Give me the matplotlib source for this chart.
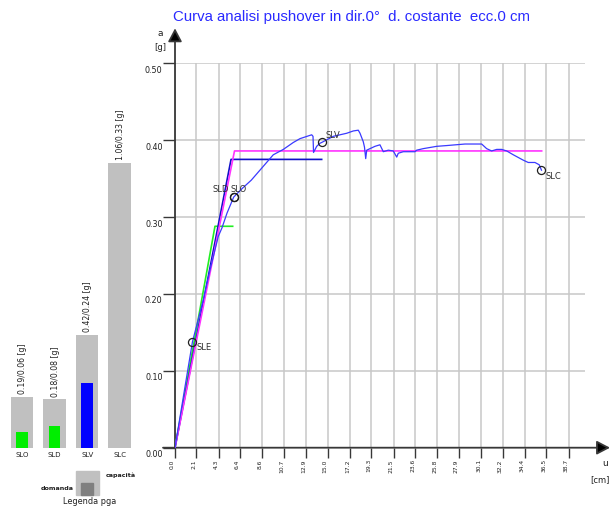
import matplotlib
matplotlib.use("Agg")
import matplotlib.pyplot as plt
from matplotlib.patches import Rectangle

W, H = 615, 509

# pushover curve: top displacement [cm] vs spectral acceleration [g]
u_push = [0.00, 0.98, 1.72, 2.78, 3.44, 4.26, 4.62, 5.11, 5.77, 6.59, 7.50,
          8.68, 9.66, 10.65, 11.63, 12.29, 13.44, 13.57, 13.62, 13.93, 14.25,
          14.42, 15.56, 16.88, 17.53, 18.02, 18.19, 18.51, 18.63, 18.75, 18.85,
          19.66, 20.15, 20.48, 20.97, 21.46, 21.80, 21.95, 22.44, 23.59, 23.76,
          24.41, 25.73, 26.71, 28.51, 30.15, 30.64, 31.13, 31.63, 32.12, 32.61,
          33.26, 34.24, 34.73, 35.39, 35.81, 36.03]
a_push = [0.000, 0.079, 0.138, 0.192, 0.231, 0.275, 0.286, 0.305, 0.326, 0.337, 0.348,
          0.366, 0.381, 0.388, 0.397, 0.402, 0.407, 0.405, 0.384, 0.392, 0.396,
          0.397, 0.405, 0.409, 0.412, 0.413, 0.409, 0.398, 0.391, 0.376, 0.387,
          0.392, 0.394, 0.385, 0.387, 0.386, 0.378, 0.383, 0.385, 0.385, 0.387,
          0.389, 0.392, 0.393, 0.395, 0.395, 0.389, 0.386, 0.388, 0.388, 0.386,
          0.381, 0.374, 0.371, 0.371, 0.368, 0.361]

# bilinear equivalents
u_green = [0.0, 3.93, 5.67]
a_green = [0.0, 0.288, 0.288]
u_magenta = [0.0, 5.85, 36.05]
a_magenta = [0.0, 0.386, 0.386]
u_blue = [0.0, 5.51, 14.42]
a_blue = [0.0, 0.375, 0.375]

# limit states on the curve
ls_names = ['SLE', 'SLD', 'SLO', 'SLV', 'SLC']
ls_u = [1.72, 5.77, 5.77, 14.42, 36.03]
ls_a = [0.138, 0.326, 0.326, 0.397, 0.361]
ls_offsets = [(4, -5.5), (-4.5, 7.3), (-3.5, 7.3), (4, 7.3), (4.2, -6.2)]  # px
ls_align = ['left', 'right', 'left', 'left', 'left']

# pga capacity / demand
pga_states = ['SLO', 'SLD', 'SLV', 'SLC']
pga_capacity = [0.19, 0.18, 0.42, 1.06]
pga_demand = [0.06, 0.08, 0.24, 0.33]
pga_demand_colors = ['#00ee00', '#00ee00', '#0000ff', None]

x_tick_labels = ['0.0', '2.1', '4.3', '6.4', '8.6', '10.7', '12.9', '15.0', '17.2', '19.3',
                 '21.5', '23.6', '25.8', '27.9', '30.1', '32.2', '34.4', '36.5', '38.7']
y_tick_labels = ['0.00', '0.10', '0.20', '0.30', '0.40', '0.50']

title = 'Curva analisi pushover in dir.0°  d. costante  ecc.0 cm'

txt = '#202020'
axis_col = '#383838'
PT = 0.72  # points per pixel at 100 dpi

fig = plt.figure(figsize=(W / 100, H / 100), dpi=100)

# ---- main pushover plot ----
ax = fig.add_axes([175 / W, 61.3 / H, 410 / W, 384.4 / H])
ax.set_xlim(0, 40.31)
ax.set_ylim(0, 0.5)
for s in ax.spines.values():
    s.set_visible(False)

xt = [float(v) for v in x_tick_labels]
yt = [float(v) for v in y_tick_labels]
ax.set_xticks(xt)
ax.set_yticks(yt)
ax.grid(True, color='#c8c8c8', lw=1.1)
ax.set_axisbelow(True)
ax.tick_params(axis='y', direction='out', length=12 * PT, width=1.0, color=axis_col,
               labelleft=False)
ax.tick_params(axis='x', direction='out', length=10 * PT, width=1.0, color=axis_col,
               labelbottom=False)

for v, lab in zip(yt, y_tick_labels):
    ax.annotate(lab, xy=(0, v), xytext=(-12.5 * PT, -7 * PT), textcoords='offset points',
                ha='right', va='center', fontsize=5.8, color=txt, annotation_clip=False)
for v, lab in zip(xt, x_tick_labels):
    ax.annotate(lab, xy=(v, 0), xytext=(-2.5 * PT, -11.5 * PT), textcoords='offset points',
                ha='center', va='top', rotation=90, fontsize=4.3, color=txt,
                annotation_clip=False)

# axes with arrow heads
arrow = dict(arrowstyle='-|>,head_length=0.8,head_width=0.42', mutation_scale=10,
             lw=1.3, color=axis_col, fc='black', shrinkA=0, shrinkB=0)
ax.annotate('', xy=(0, 0.5455), xytext=(0, 0), arrowprops=arrow, annotation_clip=False)
ax.annotate('', xy=(42.77, 0), xytext=(-1.18, 0), arrowprops=arrow, annotation_clip=False)

ax.plot(u_green, a_green, color='#22ee22', lw=1.2, zorder=3)
ax.plot(u_blue, a_blue, color='#1010c8', lw=1.2, zorder=3)
ax.plot(u_magenta, a_magenta, color='#ff33ff', lw=1.2, zorder=4)
ax.plot(u_push, a_push, color='#3a3aff', lw=0.9, zorder=5)

ax.plot(ls_u, ls_a, 'o', ms=5.8, mfc='none', mec='#202020', mew=0.9, zorder=6)
for name, u, a, (dx, dy), ha in zip(ls_names, ls_u, ls_a, ls_offsets, ls_align):
    ax.annotate(name, xy=(u, a), xytext=(dx * PT, dy * PT), textcoords='offset points',
                ha=ha, va='center', fontsize=6.0, color='#303030', zorder=7)

fig.text(173 / W, 1 - 21.5 / H, title, color='#2a2aff', fontsize=10.8,
         family='Liberation Sans', va='baseline', ha='left')
fig.text(160 / W, 1 - 34 / H, 'a', fontsize=6.5, color=txt, ha='center', va='center')
fig.text(160 / W, 1 - 48 / H, '[g]', fontsize=6.0, color=txt, ha='center', va='center')
fig.text(605.5 / W, 1 - 463 / H, 'u', fontsize=6.5, color=txt, ha='center', va='center')
fig.text(600 / W, 1 - 480 / H, '[cm]', fontsize=6.0, color=txt, ha='center', va='center')

# ---- pga bars ----
ax2 = fig.add_axes([0, 61.3 / H, 150 / W, 447.7 / H])
ax2.set_xlim(-0.683, 3.932)
ax2.set_ylim(0, 447.7 / 269)
ax2.axis('off')

pos = list(range(len(pga_states)))
ax2.bar(pos, pga_capacity, width=0.69, color='#c0c0c0')
for i, (dem, col) in enumerate(zip(pga_demand, pga_demand_colors)):
    if col is not None:
        ax2.bar(i, dem, width=0.354, color=col)
for i, (name, cap, dem) in enumerate(zip(pga_states, pga_capacity, pga_demand)):
    ax2.annotate(f'{cap:.2f}/{dem:.2f} [g]', xy=(i, cap), xytext=(0.5 * PT, 2.5 * PT),
                 textcoords='offset points', rotation=90, ha='center', va='bottom',
                 fontsize=5.6, color=txt)
    ax2.annotate(name, xy=(i, 0), xytext=(0, -7 * PT), textcoords='offset points',
                 ha='center', va='center', fontsize=5.0, color=txt, annotation_clip=False)

# legend
fig.add_artist(Rectangle((75.5 / W, 1 - 495 / H), 23.2 / W, 24.3 / H,
                         transform=fig.transFigure, color='#c0c0c0'))
fig.add_artist(Rectangle((81 / W, 1 - 495 / H), 12.3 / W, 12.3 / H,
                         transform=fig.transFigure, color='#808080'))
fig.text(106 / W, 1 - 475.5 / H, 'capacità', fontsize=4.6, color=txt, ha='left',
         va='center', weight='bold')
fig.text(73.5 / W, 1 - 488 / H, 'domanda', fontsize=4.6, color=txt, ha='right',
         va='center', weight='bold')
fig.text(90 / W, 1 - 501 / H, 'Legenda pga', fontsize=5.9, color=txt, ha='center',
         va='center')

fig.savefig('out.png', dpi=100)
